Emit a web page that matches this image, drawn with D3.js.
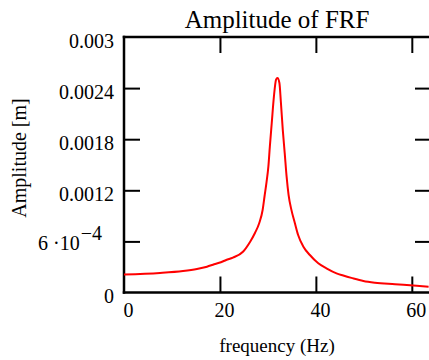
<!DOCTYPE html>
<html>
<head>
<meta charset="utf-8">
<script src="https://cdn.jsdelivr.net/npm/d3@7"></script>
<style>
  html, body { margin: 0; padding: 0; background: #fff; overflow: hidden; }
  svg { display: block; }
</style>
</head>
<body>
<div id="viz"></div>
<script>
// values
const freqHz = [0, 7.5, 12.3, 15.2, 17.3, 18.8, 20.2, 21.3, 22.7, 24.8, 26.3, 27.3, 28.2, 28.9, 29.3, 29.7,
    30.1, 30.4, 30.8, 31.25, 31.7, 32.0, 32.4, 32.7, 33.1, 33.5, 33.9, 34.3, 34.9, 35.6, 36.3, 37.4,
    38.75, 40.5, 42.2, 44.3, 45.7, 47.4, 49.9, 52.3, 56.5, 61, 63.5];
const amplitude = [0.000210, 0.000229, 0.000252, 0.000276, 0.000303, 0.000331, 0.000355, 0.000382,
    0.000410, 0.000479, 0.000597, 0.000699, 0.000816, 0.000969, 0.00113, 0.00129,
    0.00148, 0.00171, 0.00199, 0.00230, 0.00250, 0.00252, 0.00246, 0.00224, 0.00191, 0.00164,
    0.00136, 0.00115, 0.00097, 0.00082, 0.000675, 0.000538, 0.00044, 0.000343, 0.000284,
    0.000225, 0.000200, 0.000172, 0.000135, 0.000115, 0.000098, 0.00008, 0.000068];
const xTicks = [0, 20, 40, 60];
const yTicks = [0, 0.0006, 0.0012, 0.0018, 0.0024, 0.003];
const yTickLabels = ["0", "6 ·10|−4", "0.0012", "0.0018", "0.0024", "0.003"];

const serif = '"Liberation Serif", "Times New Roman", serif';
const width = 429, height = 360;
const margin = { left: 124, right: -2, top: 37, bottom: 67.5 };
const tickLen = 16;

const svg = d3.select("#viz").append("svg")
    .attr("width", width)
    .attr("height", height)
    .style("font-family", serif);

const xScale = d3.scaleLinear()
    .domain([0, 64])
    .range([margin.left, width - margin.right]);

const yScale = d3.scaleLinear()
    .domain([0, 0.003])
    .range([height - margin.bottom, margin.top]);

// inward ticks on all four sides
const gBottom = svg.append("g")
    .attr("transform", `translate(0,${yScale(0)})`)
    .call(d3.axisBottom(xScale).tickValues(xTicks).tickSize(-tickLen).tickFormat(d => d));
const gTop = svg.append("g")
    .attr("transform", `translate(0,${yScale(0.003)})`)
    .call(d3.axisTop(xScale).tickValues(xTicks).tickSize(-tickLen).tickFormat(""));
const gLeft = svg.append("g")
    .attr("transform", `translate(${xScale(0)},0)`)
    .call(d3.axisLeft(yScale).tickValues(yTicks).tickSize(-tickLen)
        .tickFormat((d, i) => yTickLabels[i]));
const gRight = svg.append("g")
    .attr("transform", `translate(${xScale(64)},0)`)
    .call(d3.axisRight(yScale).tickValues(yTicks).tickSize(-tickLen).tickFormat(""));

[gBottom, gTop, gLeft, gRight].forEach(g => {
    g.attr("font-family", serif);
    g.select(".domain").remove();
    g.selectAll(".tick line").attr("stroke", "#000").attr("stroke-width", 2);
});
// the tick at 0 sits on the left frame line
gBottom.selectAll(".tick line").filter(d => d === 0).remove();
gTop.selectAll(".tick").filter(d => d === 0).remove();

gBottom.selectAll(".tick text")
    .attr("y", 24)
    .attr("dy", 0)
    .attr("dx", 4)
    .style("font-family", serif)
    .style("font-size", "20px");

gLeft.selectAll(".tick line").filter(d => d === 0 || d === 0.003).remove();
gRight.selectAll(".tick").filter(d => d === 0 || d === 0.003).remove();

gLeft.selectAll(".tick text")
    .attr("x", -10)
    .attr("dy", 10)
    .style("font-family", serif)
    .style("font-size", "20px")
    .each(function(d, i) {
        const lbl = yTickLabels[i];
        if (lbl.includes("|")) {
            const parts = lbl.split("|");
            const t = d3.select(this).text(null).attr("x", -22).attr("dy", 8.5);
            t.append("tspan").text(parts[0]);
            t.append("tspan").attr("dy", -10).attr("dx", 1).text(parts[1]);
        }
    });

// plot frame: left, top and bottom sides (right side falls outside the window)
const frame = [
    [[0, 0], [0, 0.003]],
    [[0, 0.003], [64, 0.003]],
    [[0, 0], [64, 0]]
];
svg.selectAll(".frame")
    .data(frame)
    .join("line")
        .attr("class", "frame")
        .attr("x1", d => xScale(d[0][0]))
        .attr("y1", d => yScale(d[0][1]))
        .attr("x2", d => xScale(d[1][0]))
        .attr("y2", d => yScale(d[1][1]))
        .attr("stroke", "#000")
        .attr("stroke-width", 2.5)
        .attr("stroke-linecap", "square");

const line = d3.line()
    .x((d, i) => xScale(freqHz[i]))
    .y(d => yScale(d))
    .curve(d3.curveMonotoneX);

svg.append("path")
    .datum(amplitude)
    .attr("fill", "none")
    .attr("stroke", "#ff0000")
    .attr("stroke-width", 2)
    .attr("d", line);

svg.append("text")
    .attr("x", 277)
    .attr("y", 28)
    .style("text-anchor", "middle")
    .style("font-size", "25px")
    .text("Amplitude of FRF");

svg.append("text")
    .attr("x", 277)
    .attr("y", 352)
    .style("text-anchor", "middle")
    .style("font-size", "19px")
    .text("frequency (Hz)");

svg.append("text")
    .attr("transform", "translate(26,158) rotate(-90)")
    .style("text-anchor", "middle")
    .style("font-size", "20px")
    .text("Amplitude [m]");
</script>
</body>
</html>
